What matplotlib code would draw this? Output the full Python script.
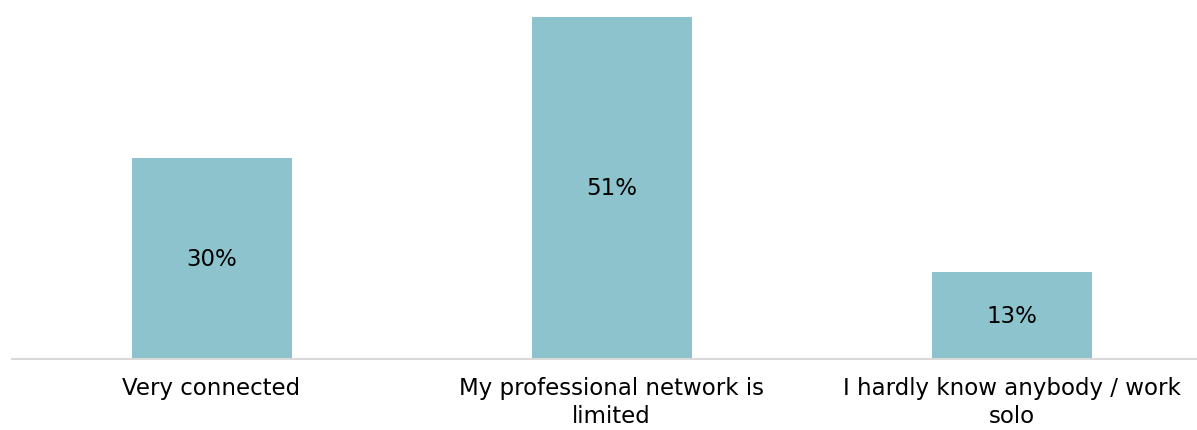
import matplotlib.pyplot as plt

categories = ["Very connected", "My professional network is\nlimited", "I hardly know anybody / work\nsolo"]
values = [30, 51, 13]

fig = plt.figure(figsize=(11.97, 4.31), dpi=100)
ax = fig.add_axes([11.5 / 1197, 71 / 431, 1200 / 1197, 342 / 431])

x = range(len(categories))
bars = ax.bar(x, values, width=0.4, color="#8CC3CC", zorder=2)

for b, v in zip(bars, values):
    ax.text(b.get_x() + b.get_width() / 2, v / 2, f"{v}%",
            ha="center", va="center", fontsize=16.5, color="#000000")

ax.set_xlim(-0.5, 2.5)
ax.set_ylim(0, 51)
ax.set_xticks(list(x))
ax.set_xticklabels(categories, fontsize=16.5, color="#000000", linespacing=1.3)
ax.tick_params(axis="x", length=0, pad=12)
ax.set_yticks([])
for s in ["top", "right", "left"]:
    ax.spines[s].set_visible(False)
ax.spines["bottom"].set_color("#D9D9D9")
ax.spines["bottom"].set_linewidth(1.5)

fig.savefig("out.png", dpi=100)
